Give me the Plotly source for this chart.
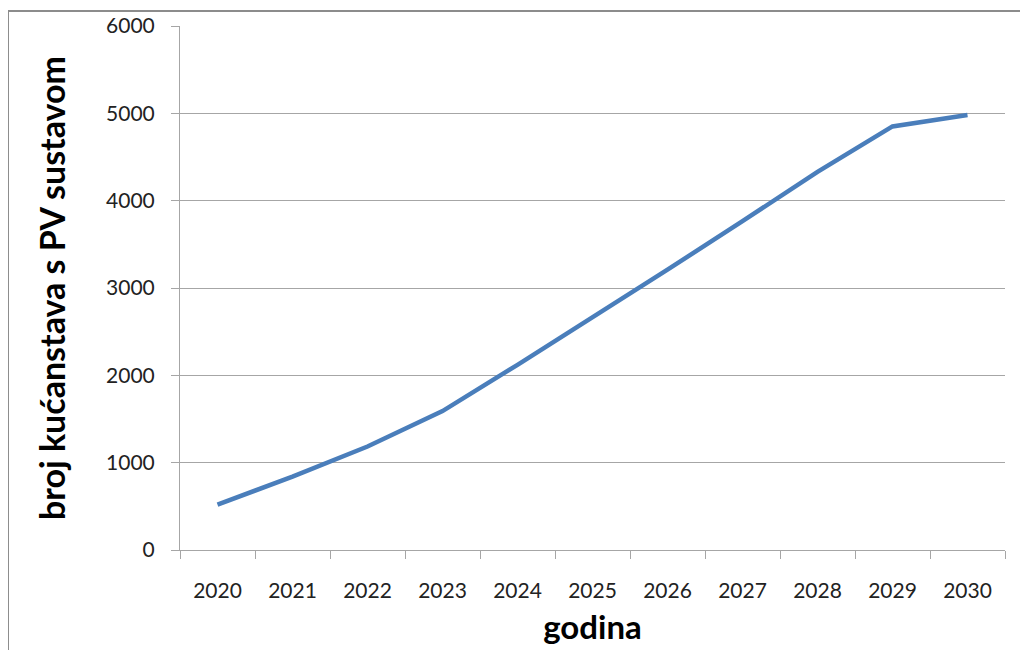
import plotly.graph_objects as go

godine = ["2020", "2021", "2022", "2023", "2024", "2025", "2026", "2027", "2028", "2029", "2030"]
kucanstva = [520, 840, 1185, 1590, 2120, 2660, 3210, 3765, 4330, 4850, 4980]
y_ticks = [0, 1000, 2000, 3000, 4000, 5000, 6000]

FONT = "Lato"
GRAY = "#a6a6a6"

fig = go.Figure()
fig.add_trace(go.Scatter(
    x=godine, y=kucanstva, mode="lines",
    line=dict(color="#4a7ebb", width=4.5),
    hoverinfo="x+y", showlegend=False,
))

fig.update_layout(
    width=1020, height=642,
    margin=dict(l=172, r=23, t=18, b=100, autoexpand=False),
    paper_bgcolor="white", plot_bgcolor="white",
    font=dict(family=FONT, size=21, color="#222222"),
    xaxis=dict(
        type="category", tickson="boundaries", range=[-0.5, len(godine) - 0.5],
        automargin=False,
        showgrid=False, showline=True, linecolor=GRAY, linewidth=1,
        ticks="outside", ticklen=8, tickcolor=GRAY,
        ticklabelstandoff=22,
        tickfont=dict(size=21, color="#222222"),
        title=dict(text="<b>godina</b>", font=dict(size=33, color="#000000"), standoff=14),
    ),
    yaxis=dict(
        range=[0, 6000], tickvals=y_ticks,
        automargin=False,
        showgrid=True, gridcolor=GRAY, gridwidth=1,
        showline=True, linecolor=GRAY, linewidth=1,
        zeroline=False,
        ticks="outside", ticklen=8, tickcolor=GRAY,
        ticklabelstandoff=12,
        tickfont=dict(size=21, color="#222222"),
        title=dict(text="<b>broj kućanstava s PV sustavom</b>", font=dict(size=34, color="#000000"), standoff=30),
    ),
    shapes=[dict(
        type="rect", xref="paper", yref="paper",
        x0=-0.2085, x1=1.05, y0=-0.25, y1=1.0286,
        line=dict(color="#8c8c8c", width=2), fillcolor="rgba(0,0,0,0)", layer="below",
    )],
)

fig.write_html("out.html")
